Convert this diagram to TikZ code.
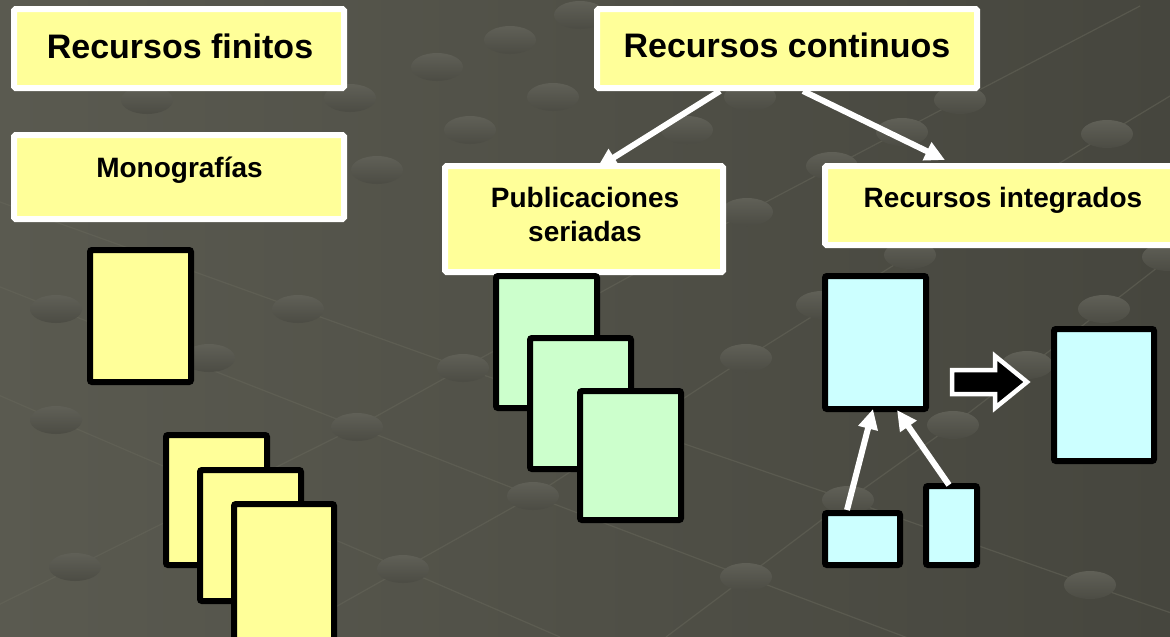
\documentclass[tikz,border=0pt]{standalone}
\usepackage{fontspec}
\setmainfont{Liberation Sans}
\usetikzlibrary{arrows.meta,calc}
\definecolor{bgl}{HTML}{5A5A50}
\definecolor{bgr}{HTML}{46463E}
\definecolor{discl}{HTML}{606057}
\definecolor{discd}{HTML}{4C4C44}
\definecolor{gridl}{HTML}{66665A}
\definecolor{yel}{HTML}{FFFF99}
\definecolor{grn}{HTML}{CCFFCC}
\definecolor{cyn}{HTML}{CCFFFF}
\begin{document}
\begin{tikzpicture}[x=1pt,y=-1pt,
  titlebox/.style={draw=white, fill=yel, line width=6pt, rounded corners=1.5pt, inner sep=0pt},
  page/.style={draw=black, fill=#1, line width=6pt, rounded corners=2pt, inner sep=0pt},
  bigtext/.style={font=\fontsize{34}{40}\selectfont\bfseries, anchor=base, inner sep=0pt},
  midtext/.style={font=\fontsize{28}{34}\selectfont\bfseries, anchor=base, inner sep=0pt},
  wline/.style={draw=white, line width=6pt, -{Triangle[length=20pt,width=19pt]}},
  gridline/.style={draw=gridl, line width=1.2pt, opacity=0.55}]
\useasboundingbox (0,0) rectangle (1170,637);
\clip (0,0) rectangle (1170,637);
% background
\shade[left color=bgl, right color=bgr] (0,0) rectangle (1170,637);
\draw[gridline] (-20,279) -- (56,309) -- (357,427) -- (533,496) -- (746,577) -- (900,635) -- (960,658);
\draw[gridline] (-20,387) -- (56,420) -- (403,569) -- (560,637);
\draw[gridline] (0,202) -- (298,309) -- (463,368) -- (848,500) -- (1090,585) -- (1180,616);
\draw[gridline] (-20,614) -- (75,567) -- (357,427) -- (463,368) -- (747,212) -- (960,100) -- (1140,6);
\draw[gridline] (282,637) -- (403,569) -- (533,496) -- (746,358) -- (910,255) -- (1107,134) -- (1180,90);
\draw[gridline] (666,637) -- (746,577) -- (848,500) -- (953,425) -- (1104,309) -- (1180,250);
\foreach \x/\y in {147/100,350/98,377/170,437/67,510/40,580/15,553/97,470/130,687/130,750/97,747/212,832/166,902/132,960/100,1107/134,910/255,1168/257,56/309,298/309,56/420,357/427,463/368,75/567,403/569,533/496,746/358,848/500,953/425,1027/365,1104/309,746/577,1090/585,822/305,209/358}
  \shade[top color=discl, bottom color=discd] (\x,\y) ellipse [x radius=26, y radius=14];
% title boxes
\node[titlebox, minimum width=330pt, minimum height=79pt] (rf) at (179,48.5) {};
\node[bigtext] (trf) at (180,58) {Recursos finitos};
\node[titlebox, minimum width=330pt, minimum height=84pt] (mono) at (179,177) {};
\node[midtext] (tmono) at (179.5,177) {Monografías};
\node[titlebox, minimum width=380pt, minimum height=79pt] (rc) at (787,48.5) {};
\node[bigtext] (trc) at (787,57) {Recursos continuos};
\node[titlebox, minimum width=278pt, minimum height=106pt] (pub) at (584,219) {};
\node[midtext] (tpub1) at (585,207) {Publicaciones};
\node[midtext] (tpub2) at (585,241) {seriadas};
\node[titlebox, minimum width=355pt, minimum height=79pt] (ri) at (1002.5,205.5) {};
\node[midtext] (tri) at (1003,207) {Recursos integrados};
% arrows from Recursos continuos
\draw[wline] ($(rc.south)+(-67,0)$) -- ($(pub.north)+(13,5)$);
\draw[wline] ($(rc.south)+(16,0)$) -- ($(ri.north west)+(123,-3)$);
% yellow pages
\node[page=yel, minimum width=101pt, minimum height=132pt] (m1) at (140.5,316) {};
\node[page=yel, minimum width=101pt, minimum height=130pt] (ya) at (216.5,500) {};
\node[page=yel, minimum width=101pt, minimum height=131pt] (yb) at (250.5,535.5) {};
\node[page=yel, minimum width=100pt, minimum height=136pt] (yc) at (284,572) {};
% green pages
\node[page=grn, minimum width=101pt, minimum height=132pt] (ga) at (546.5,342) {};
\node[page=grn, minimum width=101pt, minimum height=131pt] (gb) at (580.5,403.5) {};
\node[page=grn, minimum width=101pt, minimum height=129pt] (gc) at (630.5,455.5) {};
% cyan pages
\node[page=cyn, minimum width=101pt, minimum height=133pt] (cb) at (875.5,342.5) {};
\node[page=cyn, minimum width=100pt, minimum height=132pt] (rt) at (1104,395) {};
\node[page=cyn, minimum width=75pt, minimum height=52pt] (s1) at (862.5,539) {};
\node[page=cyn, minimum width=51pt, minimum height=79pt] (s2) at (951.5,525.5) {};
\draw[wline] ($(s1.north west)+(25,0)$) -- ($(cb.south west)+(51,-3)$);
\draw[wline] ($(s2.north west)+(26,2)$) -- ($(cb.south west)+(75,-2)$);
% block arrow
\draw[draw=white, fill=black, line width=4.5pt, line join=miter]
  (952,370) -- (995,370) -- (995,356) -- (1027,382) -- (995,408) -- (995,394) -- (952,394) -- cycle;
\end{tikzpicture}
\end{document}
